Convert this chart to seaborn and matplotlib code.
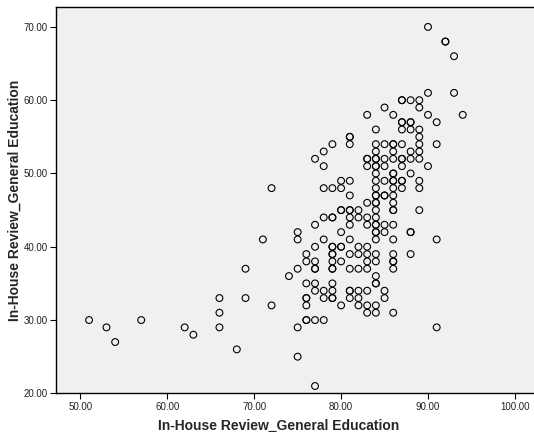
import numpy as np
import pandas as pd
import matplotlib.pyplot as plt
import seaborn as sns

# x value -> list of y values (duplicates where the circle looks bold)
x_vals = (
    [51, 53, 54, 57, 62, 63]
    + [66] * 3 + [68] + [69] * 2 + [71] + [72] * 2 + [74]
    + [75] * 5 + [76] * 8 + [77] * 10 + [78] * 8 + [79] * 15
    + [80] * 9 + [81] * 15 + [82] * 8 + [83] * 14 + [84] * 28
    + [85] * 11 + [86] * 21 + [87] * 12 + [88] * 10 + [89] * 10
    + [90] * 4 + [91] * 4 + [92] * 2 + [93] * 2 + [94]
)
y_vals = (
    [30, 29, 27, 30, 29, 28]
    + [33, 31, 29] + [26] + [37, 33] + [41] + [48, 32] + [36]
    + [42, 41, 37, 29, 25]
    + [39, 38, 35, 33, 33, 32, 30, 30]
    + [52, 43, 40, 38, 37, 37, 35, 34, 30, 21]
    + [53, 51, 48, 44, 41, 34, 33, 30]
    + [54, 48, 44, 44, 40, 40, 39, 39, 38, 37, 37, 35, 34, 33, 33]
    + [49, 48, 45, 45, 42, 40, 40, 38, 32]
    + [55, 55, 54, 49, 47, 45, 45, 44, 43, 41, 39, 37, 34, 34, 33]
    + [45, 44, 40, 39, 37, 34, 33, 32]
    + [58, 52, 52, 51, 46, 44, 43, 40, 39, 38, 37, 34, 32, 31]
    + [56, 54, 53, 52, 52, 51, 51, 50, 49, 48, 47, 47, 46, 46, 45, 44,
       43, 43, 42, 42, 41, 39, 38, 36, 35, 35, 32, 31]
    + [59, 54, 52, 51, 49, 47, 47, 43, 42, 34, 33]
    + [58, 54, 54, 53, 52, 50, 50, 49, 49, 48, 47, 46, 45, 45, 43, 41,
       39, 38, 38, 37, 31]
    + [60, 60, 57, 57, 56, 54, 52, 52, 51, 49, 49, 48]
    + [60, 57, 57, 56, 53, 52, 50, 42, 42, 39]
    + [60, 59, 56, 55, 54, 53, 52, 49, 48, 45]
    + [70, 61, 58, 51]
    + [57, 54, 41, 29]
    + [68, 68]
    + [66, 61]
    + [58]
)

x_ticks = [50, 60, 70, 80, 90, 100]
y_ticks = [20, 30, 40, 50, 60, 70]
axis_label = "In-House Review_General Education"

df = pd.DataFrame({"x": x_vals, "y": y_vals})

sns.set_style("white")
plt.rcParams["font.family"] = ["Liberation Sans", "DejaVu Sans"]

fig = plt.figure(figsize=(5.34, 4.32), dpi=100)
ax = fig.add_axes([0.105, 0.0895, 0.895, 0.894])
ax.set_facecolor("#f0f0f0")

sns.scatterplot(data=df, x="x", y="y", ax=ax, marker="o", s=24,
                facecolor="none", edgecolor="black", linewidth=0.8)

ax.set_xlim(47.2, 102.2)
ax.set_ylim(20, 72.7)
ax.set_xticks(x_ticks)
ax.set_yticks(y_ticks)
ax.set_xticklabels([f"{t:.2f}" for t in x_ticks], fontsize=7, color="#222222")
ax.set_yticklabels([f"{t:.2f}" for t in y_ticks], fontsize=7, color="#222222")
ax.tick_params(direction="out", length=4, width=0.8, color="black",
               bottom=True, left=True, pad=2)

ax.set_xlabel(axis_label, fontsize=10, fontweight="bold", labelpad=4)
ax.xaxis.set_label_coords(0.465, -0.065)
ax.set_ylabel(axis_label, fontsize=10, fontweight="bold", labelpad=1)

for side in ["left", "bottom", "top"]:
    ax.spines[side].set_color("black")
    ax.spines[side].set_linewidth(1.0)
ax.spines["right"].set_visible(False)

fig.savefig("out.png", dpi=100)
